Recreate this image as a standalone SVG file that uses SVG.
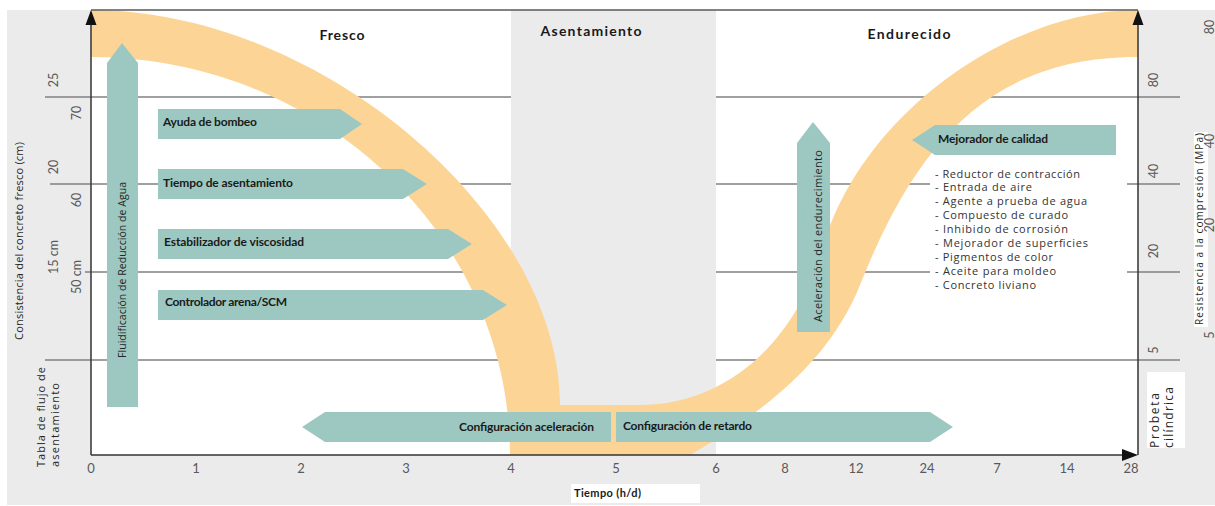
<svg xmlns="http://www.w3.org/2000/svg" width="1215" height="506" viewBox="0 0 1215 506">
<defs>
<style>
.bg{fill:#ebebeb}
.grid{stroke:#808080;stroke-width:1.3;fill:none}
.axis{stroke:#333;stroke-width:1.5;fill:none}
.head{fill:#111}
.band{fill:#fcd596}
.arr{fill:#9dc8c1}
.lbl{font-family:Lato,"Liberation Sans",sans-serif;font-weight:bold;font-size:12px;fill:#1a1a1a}
.ttl{font-family:Lato,"Liberation Sans",sans-serif;font-weight:bold;font-size:14px;fill:#1a1a1a}
.tick{font-family:Lato,"Liberation Sans",sans-serif;font-size:13px;fill:#595959}
.rt{font-family:Lato,"Liberation Sans",sans-serif;font-size:12.5px;fill:#595959}
.vt{font-family:"Open Sans","Liberation Sans",sans-serif;font-size:10.5px;fill:#262626}
.lst{font-family:"Open Sans","Liberation Sans",sans-serif;font-size:11px;fill:#333}
</style>
</defs>

<rect x="7" y="10" width="1208" height="495" class="bg"/>
<rect x="91" y="10" width="1047" height="445" fill="#ffffff"/>

<g id="gridlines" class="grid">
<line x1="45" y1="97" x2="1180" y2="97"/>
<line x1="50" y1="184" x2="1180" y2="184"/>
<line x1="85" y1="272" x2="1180" y2="272"/>
<line x1="45" y1="360" x2="1180" y2="360"/>
</g>

<rect id="asentamiento-band" x="511" y="10" width="205" height="445" class="bg"/>

<path id="curve" class="band" d="M91,10 C320,10 560,215 560,405 L640,405 C730,405 797.7,336.4 822,250 C859.8,115.6 1008,10 1138,10 L1138,57 C988,57 915.5,145.5 860,285 C826.7,368.7 751,419 690,455 L510,455 C510,236 321,57 91,57 Z"/>

<g id="axes">
<line class="axis" x1="91" y1="10" x2="1138" y2="10" style="stroke:#595959;stroke-width:1.3"/>
<line class="axis" x1="91" y1="455" x2="91" y2="20"/>
<line class="axis" x1="1138" y1="455" x2="1138" y2="20"/>
<line class="axis" x1="91" y1="455" x2="1128" y2="455"/>
<polygon class="head" points="91,10 85.5,25 96.5,25"/>
<polygon class="head" points="1138,10 1132.5,25 1143.5,25"/>
<polygon class="head" points="1138,455 1122,449 1122,461"/>
</g>

<g id="x-ticks" class="tick" text-anchor="middle">
<text x="91" y="473">0</text>
<text x="196" y="473">1</text>
<text x="301" y="473">2</text>
<text x="406" y="473">3</text>
<text x="511" y="473">4</text>
<text x="616" y="473">5</text>
<text x="716" y="473">6</text>
<text x="785" y="473">8</text>
<text x="856" y="473">12</text>
<text x="927" y="473">24</text>
<text x="997" y="473">7</text>
<text x="1067" y="473">14</text>
<text x="1131" y="473">28</text>
</g>

<g id="x-title">
<rect x="571" y="484" width="129" height="19" fill="#ffffff"/>
<text class="lbl" x="574" y="497" style="font-size:11px" textLength="67">Tiempo (h/d)</text>
</g>

<g id="left-axis-labels" class="rt" text-anchor="middle">
<text transform="translate(58,80) rotate(-90)">25</text>
<text transform="translate(81,113) rotate(-90)">70</text>
<text transform="translate(58,167) rotate(-90)">20</text>
<text transform="translate(81,200) rotate(-90)">60</text>
<text transform="translate(58,257) rotate(-90)">15 cm</text>
<text transform="translate(81,277) rotate(-90)">50 cm</text>
</g>
<g id="left-axis-title" class="vt">
<text transform="translate(23,241) rotate(-90)" text-anchor="middle" textLength="198" style="font-size:11px">Consistencia del concreto fresco (cm)</text>
<text transform="translate(45,467) rotate(-90)" textLength="100" style="font-size:11px">Tabla de flujo de</text>
<text transform="translate(59,467) rotate(-90)" textLength="84" style="font-size:11px">asentamiento</text>
</g>

<g id="right-axis-labels" class="rt" text-anchor="middle">
<rect x="1194" y="132" width="14" height="195" fill="#ffffff"/>
<text class="vt" transform="translate(1203,229) rotate(-90)" textLength="192" style="font-size:10px">Resistencia a la compresión (MPa)</text>
<text transform="translate(1213.5,27) rotate(-90)">80</text>
<text transform="translate(1158,80) rotate(-90)">80</text>
<text transform="translate(1213.5,141) rotate(-90)">40</text>
<text transform="translate(1158,171) rotate(-90)">40</text>
<text transform="translate(1213.5,225) rotate(-90)">20</text>
<text transform="translate(1158,251) rotate(-90)">20</text>
<text transform="translate(1213.5,335) rotate(-90)">5</text>
<text transform="translate(1158,350) rotate(-90)">5</text>
</g>

<g id="probeta">
<rect x="1147" y="372" width="38" height="76" fill="#ffffff"/>
<text class="vt" transform="translate(1159,448) rotate(-90)" textLength="55" style="font-size:12px">Probeta</text>
<text class="vt" transform="translate(1173,448) rotate(-90)" textLength="61" style="font-size:12px">cilíndrica</text>
</g>

<g id="titles" class="ttl" text-anchor="middle">
<text x="342" y="40" textLength="45">Fresco</text>
<text x="591" y="36" textLength="101">Asentamiento</text>
<text x="909" y="39" textLength="83">Endurecido</text>
</g>

<g id="fluidificacion">
<polygon class="arr" points="107,407 107,63 122,43 138,63 138,407"/>
<text class="vt" transform="translate(125.5,270) rotate(-90)" text-anchor="middle" textLength="176">Fluidificación de Reducción de Agua</text>
</g>

<g id="ayuda-bombeo">
<polygon class="arr" points="158,109 340,109 362,124 340,139 158,139"/>
<text class="lbl" x="163" y="126" textLength="94">Ayuda de bombeo</text>
</g>
<g id="tiempo-asentamiento">
<polygon class="arr" points="158,169 403,169 427,184 403,199 158,199"/>
<text class="lbl" x="163" y="187" textLength="130">Tiempo de asentamiento</text>
</g>
<g id="estabilizador">
<polygon class="arr" points="158,229 448,229 472,244 448,259 158,259"/>
<text class="lbl" x="164" y="245.5" textLength="140">Estabilizador de viscosidad</text>
</g>
<g id="controlador">
<polygon class="arr" points="158,290 483,290 507,305 483,320 158,320"/>
<text class="lbl" x="165" y="306" textLength="122">Controlador arena/SCM</text>
</g>

<g id="config-aceleracion">
<polygon class="arr" points="302,427 325,412 611,412 611,442 325,442"/>
<text class="lbl" x="459" y="431" textLength="135">Configuración aceleración</text>
</g>
<g id="config-retardo">
<polygon class="arr" points="616,412 930,412 953,427 930,442 616,442"/>
<text class="lbl" x="623" y="429.5" textLength="129">Configuración de retardo</text>
</g>

<g id="aceleracion-endurecimiento">
<polygon class="arr" points="797,332 797,143 813,122 830,143 830,332"/>
<text class="vt" transform="translate(821.5,236) rotate(-90)" text-anchor="middle" textLength="172" style="font-size:11px">Aceleración del endurecimiento</text>
</g>

<g id="mejorador-calidad">
<polygon class="arr" points="912,140 935,125 1116,125 1116,155 935,155"/>
<text class="lbl" x="938" y="142.5" textLength="110">Mejorador de calidad</text>
</g>

<g id="lista">
<rect x="930" y="163" width="197" height="128" fill="#ffffff"/>
<g class="lst">
<text x="935" y="177.5" textLength="145">- Reductor de contracción</text>
<text x="935" y="191.4" textLength="97">- Entrada de aire</text>
<text x="935" y="205.3" textLength="152">- Agente a prueba de agua</text>
<text x="935" y="219.2" textLength="133">- Compuesto de curado</text>
<text x="935" y="233.1" textLength="133">- Inhibido de corrosión</text>
<text x="935" y="247" textLength="153">- Mejorador de superficies</text>
<text x="935" y="260.9" textLength="118">- Pigmentos de color</text>
<text x="935" y="274.8" textLength="121">- Aceite para moldeo</text>
<text x="935" y="288.7" textLength="101">- Concreto liviano</text>
</g>
</g>
</svg>
